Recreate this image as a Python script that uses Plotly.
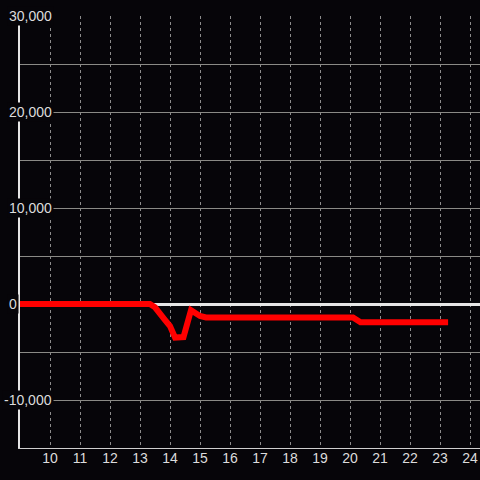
import plotly.graph_objects as go

# Data (hour of day vs value)
hours = [9.0, 10.0, 11.0, 12.0, 13.0, 13.33, 13.5, 13.67, 13.83, 14.0, 14.17, 14.45,
         14.7, 15.0, 15.2, 16.0, 17.0, 18.0, 19.0, 20.0, 20.1, 20.35, 21.0, 22.0, 23.0, 23.27]
values = [0, 0, 0, 0, 0, 0, -350, -1150, -1650, -2300, -3500, -3450,
          -650, -1250, -1400, -1400, -1400, -1400, -1400, -1400, -1400, -1900, -1900, -1900, -1900, -1900]

x_ticks = [10, 11, 12, 13, 14, 15, 16, 17, 18, 19, 20, 21, 22, 23, 24]
x_tick_labels = [str(t) for t in x_ticks]
y_ticks = [-10000, 0, 10000, 20000, 30000]
y_tick_labels = ["-10,000", "0", "10,000", "20,000", "30,000"]

BG = "#060509"
TXT = "#dcdcdc"
FONT = "Liberation Sans, Arial, sans-serif"

fig = go.Figure()
fig.add_trace(go.Scatter(x=hours, y=values, mode="lines",
                         line=dict(color="#ff0000", width=6), hoverinfo="skip"))

W, H = 480, 480
ml, mr, mt, mb = 20, 0, 16, 32
pw = W - ml - mr

for v, lab in zip(y_ticks, y_tick_labels):
    px = 7 - (5 if lab.startswith("-") else 0)
    fig.add_annotation(x=(px - ml) / pw, xref="paper", y=v, yref="y",
                       text=lab, showarrow=False, xanchor="left", yanchor="middle",
                       font=dict(family=FONT, size=14, color=TXT),
                       bgcolor=BG, borderpad=1)

fig.update_layout(
    width=W, height=H,
    margin=dict(l=ml, r=mr, t=mt, b=mb, pad=0),
    paper_bgcolor=BG, plot_bgcolor=BG,
    showlegend=False,
    font=dict(family=FONT, size=14, color=TXT),
    xaxis=dict(range=[9, 24.3333], tickvals=x_ticks, ticktext=x_tick_labels,
               showgrid=True, gridcolor="#8c8c8c", gridwidth=1, griddash="dot",
               showline=True, linecolor="#cfcfcf", linewidth=1,
               zeroline=False, ticks="", ticklabelstandoff=-3,
               tickfont=dict(size=14, color=TXT)),
    yaxis=dict(range=[-15000, 30000], dtick=5000, tick0=0,
               showgrid=True, gridcolor="#8a8a86", gridwidth=1,
               showline=True, linecolor="#e6e6e6", linewidth=2,
               zeroline=True, zerolinecolor="#e6e6e6", zerolinewidth=3,
               showticklabels=False, ticks=""),
)

fig.write_html(
    "out.html",
    config={"displayModeBar": False},
    post_script="document.body.style.margin='0';document.body.style.overflow='hidden';"
                "document.body.style.background='#060509';",
)
